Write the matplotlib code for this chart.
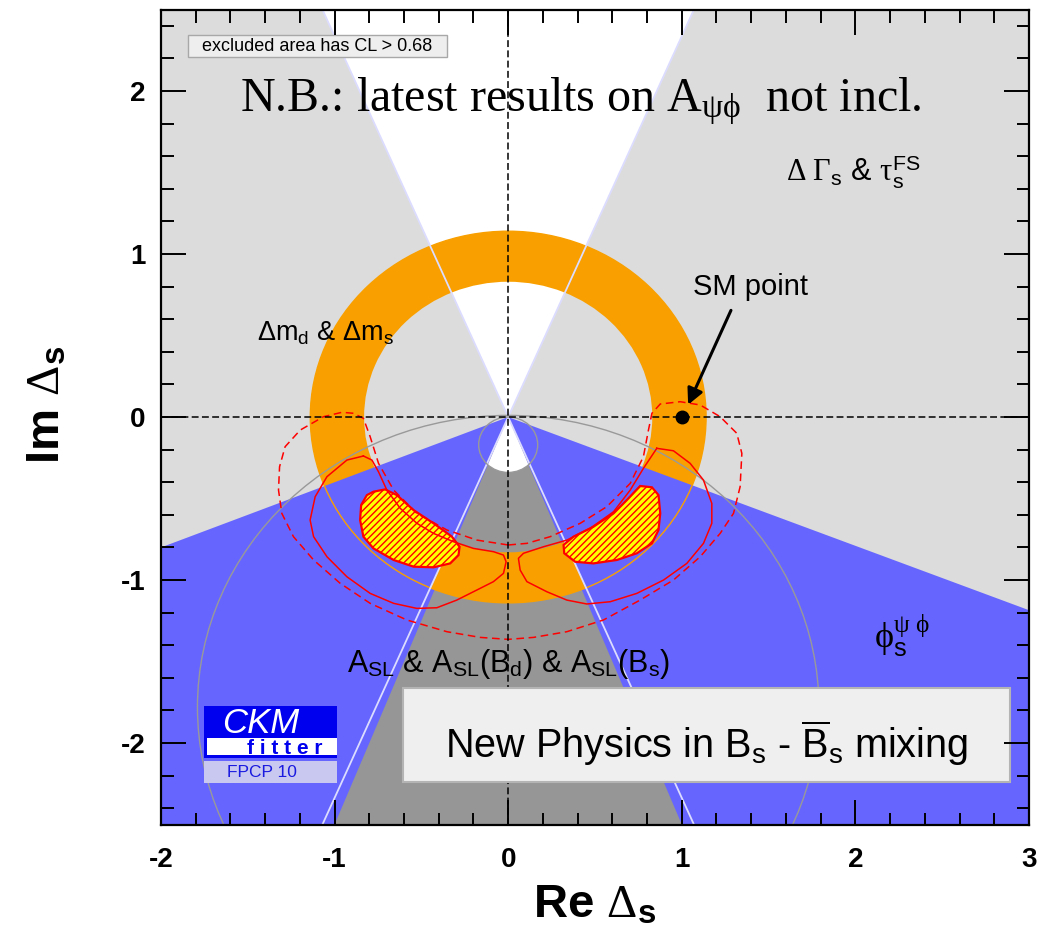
import matplotlib
matplotlib.use('Agg')
import matplotlib.pyplot as plt
from matplotlib.patches import Polygon, Wedge, Circle, Rectangle
from matplotlib.ticker import MultipleLocator

plt.rcParams['font.family'] = ['Liberation Sans', 'DejaVu Sans']
plt.rcParams['mathtext.fontset'] = 'custom'
plt.rcParams['mathtext.rm'] = 'Liberation Serif'
plt.rcParams['mathtext.it'] = 'Liberation Serif:italic'
plt.rcParams['mathtext.bf'] = 'Liberation Sans:bold'
plt.rcParams['mathtext.sf'] = 'Liberation Sans'
plt.rcParams['axes.unicode_minus'] = False
plt.rcParams['hatch.linewidth'] = 1.0

# plot range
re_min, re_max = -2.0, 3.0
im_min, im_max = -2.5, 2.5

# straight constraint edges (Re/Im slopes through the origin)
dgamma_slope = 0.428      # Delta Gamma_s & tau_s cone: |Re| = slope*|Im|
asl_slope = 0.40          # dark grey A_SL cone: |Re| = slope*|Im|
phis_slope_left = 0.40    # phi_s edge: Im = -slope*|Re|
phis_slope_right = 0.395

# circles
dm_r_in, dm_r_out = 0.83, 1.14          # Delta m_d & Delta m_s ring
asl_small_y, asl_small_r = -0.17, 0.17  # small A_SL circle
asl_big_y, asl_big_r = -1.78, 1.79      # big A_SL circle
sm_re, sm_im = 1.0, 0.0

# red global fit contours
cl95_re = [0.0, -0.18, -0.353, -0.526, -0.66, -0.747, -0.795, -0.834, -0.891, -0.958,
           -1.064, -1.198, -1.285, -1.317, -1.323, -1.304, -1.237, -1.121, -0.968, -0.795,
           -0.584, -0.353, -0.161, 0.0, 0.146, 0.338, 0.549, 0.76, 0.952, 1.106, 1.221,
           1.298, 1.336, 1.346, 1.317, 1.221, 1.106, 0.991, 0.876, 0.828, 0.808, 0.779,
           0.703, 0.568, 0.415, 0.242, 0.108, 0.0]
cl95_im = [-0.785, -0.755, -0.693, -0.591, -0.448, -0.284, -0.121, -0.008, 0.023, 0.029,
           0.002, -0.08, -0.182, -0.305, -0.448, -0.591, -0.734, -0.877, -1.02, -1.143,
           -1.245, -1.317, -1.352, -1.364, -1.352, -1.317, -1.245, -1.123, -1.0, -0.857,
           -0.714, -0.591, -0.428, -0.223, -0.1, 0.002, 0.074, 0.094, 0.08, 0.023, -0.08,
           -0.243, -0.407, -0.55, -0.652, -0.734, -0.775, -0.785]

cl68_left_re = [-0.834, -0.929, -1.044, -1.112, -1.141, -1.121, -1.044, -0.929, -0.795,
                -0.66, -0.526, -0.411, -0.296, -0.18, -0.085, -0.027, -0.012, -0.027,
                -0.085, -0.2, -0.315, -0.43, -0.526, -0.622, -0.699, -0.747, -0.785, -0.834]
cl68_left_im = [-0.239, -0.264, -0.366, -0.489, -0.632, -0.734, -0.857, -0.98, -1.082,
                -1.143, -1.174, -1.17, -1.123, -1.061, -1.01, -0.959, -0.888, -0.847,
                -0.826, -0.806, -0.765, -0.714, -0.652, -0.56, -0.448, -0.336, -0.264, -0.239]

cl68_right_re = [0.856, 0.952, 1.048, 1.125, 1.173, 1.173, 1.125, 1.029, 0.895, 0.741,
                 0.588, 0.453, 0.338, 0.223, 0.108, 0.069, 0.059, 0.088, 0.203, 0.338,
                 0.472, 0.607, 0.703, 0.779, 0.856]
cl68_right_im = [-0.192, -0.207, -0.284, -0.387, -0.53, -0.652, -0.775, -0.898, -1.0,
                 -1.082, -1.133, -1.147, -1.123, -1.072, -1.01, -0.939, -0.867, -0.836,
                 -0.796, -0.755, -0.683, -0.581, -0.448, -0.315, -0.192]

core_left_re = [-0.776, -0.709, -0.641, -0.545, -0.43, -0.324, -0.28, -0.286, -0.334,
                -0.43, -0.545, -0.66, -0.776, -0.834, -0.853, -0.847, -0.814]
core_left_im = [-0.458, -0.444, -0.479, -0.571, -0.652, -0.734, -0.796, -0.847, -0.898,
                -0.922, -0.918, -0.877, -0.806, -0.734, -0.632, -0.54, -0.479]

core_right_re = [0.76, 0.828, 0.866, 0.876, 0.866, 0.828, 0.741, 0.626, 0.491, 0.386,
                 0.323, 0.319, 0.376, 0.491, 0.607, 0.684]
core_right_im = [-0.423, -0.431, -0.479, -0.591, -0.693, -0.775, -0.836, -0.877, -0.898,
                 -0.888, -0.836, -0.785, -0.734, -0.673, -0.591, -0.509]

c_lgray = '#dcdcdc'
c_blue = '#6666ff'
c_dgray = '#969696'
c_orange = '#f9a000'
c_red = '#ff0000'

fig = plt.figure(figsize=(10.38, 9.36), dpi=100)
ax = fig.add_axes([0.1551, 0.1191, 0.8362, 0.8707])
ax.set_xlim(re_min, re_max)
ax.set_ylim(im_min, im_max)
ax.set_facecolor(c_lgray)

# Delta Gamma_s allowed wedge (white)
ax.add_patch(Polygon([(0, 0), (-dgamma_slope * im_max, im_max), (dgamma_slope * im_max, im_max)],
                     closed=True, fc='white', ec='none', zorder=1))
# lower cone: blue strip + dark grey A_SL cone
low = abs(im_min)
ax.add_patch(Polygon([(0, 0), (-dgamma_slope * low, im_min), (dgamma_slope * low, im_min)],
                     closed=True, fc=c_blue, ec='none', zorder=1.1))
cone = Polygon([(0, 0), (-asl_slope * low, im_min), (asl_slope * low, im_min)],
               closed=True, fc=c_dgray, ec='none', zorder=1.2)
ax.add_patch(cone)
hole = Circle((0, asl_small_y), asl_small_r, fc='white', ec='none', zorder=1.3)
ax.add_patch(hole)
hole.set_clip_path(cone)

# Delta m ring
ax.add_patch(Wedge((0, 0), dm_r_out, 0, 360, width=dm_r_out - dm_r_in,
                   fc=c_orange, ec='none', zorder=1.4))

# phi_s excluded (blue)
ax.add_patch(Polygon([(0, 0), (re_min, phis_slope_left * re_min), (re_min, im_min),
                      (-dgamma_slope * low, im_min)], closed=True, fc=c_blue, ec='none', zorder=1.5))
ax.add_patch(Polygon([(0, 0), (dgamma_slope * low, im_min), (re_max, im_min),
                      (re_max, -phis_slope_right * re_max)], closed=True, fc=c_blue, ec='none', zorder=1.5))

ax.add_patch(Circle((0, 0), dm_r_out, fill=False, ec=c_orange, lw=1.0, zorder=1.6))

# cone edge lines
ax.plot([-dgamma_slope * im_max, dgamma_slope * low], [im_max, im_min], color='#dcdcff', lw=1.3, zorder=1.7)
ax.plot([dgamma_slope * im_max, -dgamma_slope * low], [im_max, im_min], color='#dcdcff', lw=1.3, zorder=1.7)

# A_SL circles
ax.add_patch(Circle((0, asl_small_y), asl_small_r, fill=False, ec='#999999', lw=1.0, zorder=1.8))
ax.add_patch(Circle((0, asl_big_y), asl_big_r, fill=False, ec='#999999', lw=1.0, zorder=1.8))

# fit contours
ax.fill(core_left_re, core_left_im, fc='#ffff00', ec=c_red, hatch='/////', lw=1.6, zorder=3)
ax.fill(core_right_re, core_right_im, fc='#ffff00', ec=c_red, hatch='/////', lw=1.6, zorder=3)
ax.plot(cl68_left_re, cl68_left_im, color=c_red, lw=1.1, zorder=3.1)
ax.plot(cl68_right_re, cl68_right_im, color=c_red, lw=1.1, zorder=3.1)
ax.plot(cl95_re, cl95_im, color=c_red, lw=1.1, ls=(0, (5, 3)), zorder=3.1)

# axes cross
ax.axhline(0, color='k', lw=1.1, ls=(0, (4.5, 2.2)), zorder=3.5)
ax.axvline(0, color='k', lw=1.1, ls=(0, (4.5, 2.2)), zorder=3.5)

# SM point
ax.plot([sm_re], [sm_im], 'o', color='k', ms=9, zorder=4)
ax.annotate('', xy=(1.03, 0.06), xytext=(1.29, 0.67),
            arrowprops=dict(arrowstyle='-|>', color='k', lw=2.2, mutation_scale=24), zorder=4)
ax.text(1.394, 0.80, 'SM point', fontsize=21, ha='center', va='center', zorder=5)

# labels inside the plot
ax.text(-1.054, 0.515, r'$\mathsf{\Delta m_d}$ & $\mathsf{\Delta m_s}$', fontsize=19.5,
        ha='center', va='center', zorder=5)
ax.text(1.99, 1.50, r'$\mathrm{\Delta\ \Gamma}_{\mathsf{s}}$ & $\mathrm{\tau}_{\mathsf{s}}^{\mathsf{FS}}$',
        fontsize=22, ha='center', va='center', zorder=5)
ax.text(0.0, -1.564, r'A$_{\mathsf{SL}}$ & A$_{\mathsf{SL}}$(B$_{\mathsf{d}}$) & A$_{\mathsf{SL}}$(B$_{\mathsf{s}}$)',
        fontsize=22, ha='center', va='baseline', zorder=5)
ax.text(2.27, -1.34, r'$\mathrm{\phi}_{\mathsf{s}}^{\mathrm{\psi\ \phi}}$', fontsize=26,
        ha='center', va='center', zorder=5)
ax.text(-1.545, 1.873, r'N.B.: latest results on A$_{\mathrm{\psi\phi}}$  not incl.',
        family='Liberation Serif', fontsize=34.6, ha='left', va='baseline', zorder=5)

# CL note box
ax.add_patch(Rectangle((-1.847, 2.209), 1.497, 0.135, fc='#eeeeee', ec='#a8a8a8', lw=1.0, zorder=6))
ax.text(-1.098, 2.272, 'excluded area has CL > 0.68', fontsize=13, ha='center', va='center', zorder=7)

# title box
ax.add_patch(Rectangle((-0.605, -2.239), 3.497, 0.576, fc='#efefef', ec='#b4b4b4', lw=1.5, zorder=6))
ax.text(1.143, -2.092, r'New Physics in B$_{\mathsf{s}}$ - $\overline{\mathsf{B}}_{\mathsf{s}}$ mixing',
        fontsize=28.5, ha='center', va='baseline', zorder=7)

# CKMfitter logo
ax.add_patch(Rectangle((-1.751, -2.092), 0.766, 0.319, fc='#0000ee', ec='none', zorder=6))
ax.add_patch(Rectangle((-1.734, -2.074), 0.749, 0.105, fc='white', ec='none', zorder=6.1))
ax.add_patch(Rectangle((-1.751, -2.245), 0.766, 0.135, fc='#c8c8f0', ec='none', zorder=6))
ax.text(-1.423, -1.937, 'CKM', color='white', style='italic', fontsize=25, ha='center',
        va='baseline', zorder=7)
ax.text(-1.285, -2.068, 'f i t t e r', color='#0000ee', fontweight='bold', fontsize=15,
        ha='center', va='baseline', zorder=7)
ax.text(-1.417, -2.178, 'FPCP 10', color='#1a1ae0', fontsize=12.5, ha='center', va='center', zorder=7)

# axes and ticks
ax.set_xticks(range(-2, 4))
ax.set_yticks(range(-2, 3))
ax.xaxis.set_minor_locator(MultipleLocator(0.2))
ax.yaxis.set_minor_locator(MultipleLocator(0.2))
ax.tick_params(which='both', direction='in', top=True, right=True, width=1.4, zorder=10)
ax.tick_params(which='major', length=18, labelsize=20)
ax.tick_params(which='minor', length=9)
ax.tick_params(axis='x', which='major', pad=16)
ax.tick_params(axis='y', which='major', pad=11)
for lbl in ax.get_xticklabels() + ax.get_yticklabels():
    lbl.set_fontweight('bold')
for sp in ax.spines.values():
    sp.set_linewidth(1.6)
    sp.set_zorder(10)
ax.xaxis.set_zorder(10)
ax.yaxis.set_zorder(10)

ax.set_xlabel(r'Re $\mathrm{\Delta}_{\mathbf{s}}$', fontsize=34, fontweight='bold')
ax.set_ylabel(r'Im $\mathrm{\Delta}_{\mathbf{s}}$', fontsize=34, fontweight='bold')
ax.xaxis.set_label_coords(0.5, -0.072)
ax.yaxis.set_label_coords(-0.105, 0.515)

fig.savefig('out.png', dpi=100)
